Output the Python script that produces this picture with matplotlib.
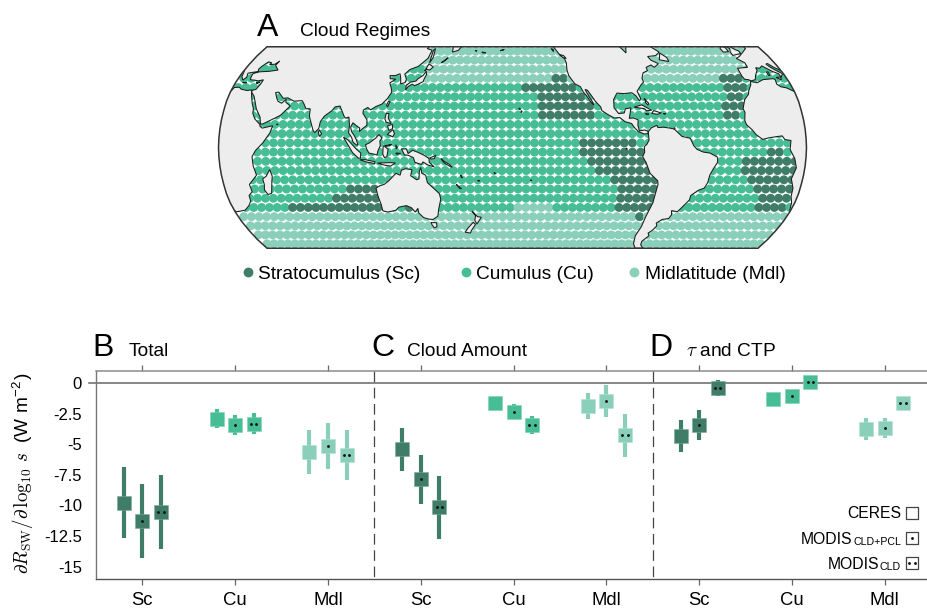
import numpy as np
import matplotlib
matplotlib.use("Agg")
import matplotlib.pyplot as plt
from matplotlib.path import Path
from matplotlib.patches import PathPatch, Polygon

plt.rcParams['font.family'] = ['Liberation Sans', 'DejaVu Sans']
plt.rcParams['mathtext.fontset'] = 'cm'

SC_COL, CU_COL, MDL_COL = '#3f7d69', '#46bd94', '#89cfb9'
W, H = 928, 612

# bars: order is CERES, CLD+PCL, CLD for Sc, Cu, Mdl
total_mid = [-9.76, -11.25, -10.54, -2.93, -3.40, -3.32, -5.62, -5.11, -5.90]
total_hi = [-6.82, -8.23, -7.55, -2.15, -2.60, -2.47, -3.86, -3.23, -3.86]
total_lo = [-12.66, -14.30, -13.56, -3.64, -4.24, -4.16, -7.42, -7.01, -7.91]
amount_mid = [-5.41, -7.85, -10.16, -1.60, -2.34, -3.40, -1.88, -1.47, -4.27]
amount_hi = [-3.70, -5.87, -7.60, -1.45, -1.71, -2.66, -0.84, -0.19, -2.53]
amount_lo = [-7.17, -9.84, -12.77, -1.75, -2.93, -4.16, -2.93, -2.77, -6.03]
tau_mid = [-4.32, -3.42, -0.38, -1.33, -1.09, 0.08, -3.72, -3.64, -1.66]
tau_hi = [-3.02, -2.20, 0.24, -1.10, -0.90, 0.35, -2.85, -2.85, -1.40]
tau_lo = [-5.65, -4.65, -1.03, -1.60, -1.30, -0.15, -4.62, -4.46, -1.90]

group_labels = ['Sc', 'Cu', 'Mdl'] * 3
ytick_vals = [0, -2.5, -5, -7.5, -10, -12.5, -15]
ytick_labels = ['0', '-2.5', '-5', '-7.5', '-10', '-12.5', '-15']

# map cells, 5 degree grid, (lat, first lon, last lon) runs
cell_lats = [52.5, 47.5, 42.5, 37.5, 32.5, 27.5, 22.5, 17.5, 12.5, 7.5, 2.5,
             -2.5, -7.5, -12.5, -17.5, -22.5, -27.5, -32.5, -37.5, -42.5, -47.5, -52.5]
cell_lons = [22.5 + 5 * i for i in range(72)]
mdl_runs = [(52.5, 22.5, 377.5), (47.5, 22.5, 377.5), (42.5, 22.5, 377.5), (37.5, 22.5, 377.5),
            (-32.5, 202.5, 222.5), (-37.5, 22.5, 377.5), (-42.5, 22.5, 377.5),
            (-47.5, 22.5, 377.5), (-52.5, 22.5, 377.5)]
cu_runs = [(47.5, 22.5, 57.5), (42.5, 22.5, 57.5), (42.5, 127.5, 137.5), (37.5, 22.5, 57.5),
           (37.5, 122.5, 137.5), (42.5, 357.5, 377.5), (37.5, 352.5, 377.5)]
sc_runs = [(37.5, 227.5, 232.5), (37.5, 337.5, 347.5), (32.5, 207.5, 237.5), (32.5, 337.5, 347.5),
           (27.5, 217.5, 242.5), (27.5, 337.5, 342.5), (22.5, 217.5, 247.5), (22.5, 332.5, 342.5),
           (17.5, 217.5, 247.5), (17.5, 332.5, 337.5),
           (2.5, 242.5, 272.5), (-2.5, 242.5, 277.5), (-7.5, 247.5, 282.5), (-12.5, 252.5, 287.5),
           (-17.5, 262.5, 292.5), (-22.5, 267.5, 292.5), (-27.5, 267.5, 292.5), (-32.5, 267.5, 292.5),
           (-37.5, 282.5, 282.5),
           (-2.5, 357.5, 362.5), (-7.5, 342.5, 372.5), (-12.5, 342.5, 372.5), (-17.5, 347.5, 372.5),
           (-22.5, 352.5, 372.5), (-27.5, 357.5, 372.5), (-32.5, 357.5, 372.5),
           (-22.5, 97.5, 112.5), (-27.5, 87.5, 112.5), (-32.5, 57.5, 117.5), (-32.5, 132.5, 132.5)]

# coasts, lon/lat, coarse
africa = [(-6,35.8),(-2,35.1),(3,36.8),(10,37.3),(11,36.9),(10.2,34.3),(12,32.9),(15.3,32.3),(19,30.3),(20,32.5),(23,32.7),
          (25,31.6),(29,30.9),(32.3,31.2),(32.6,29.9),(33.5,28),(35.5,24),(37.2,21),(37.5,18.5),(39.5,15.5),(43.2,12.5),
          (43.4,11.5),(45,10.5),(51.2,11.8),(50,8),(46,2.5),(41.5,-1.7),(39.3,-5),(39.5,-10),(40.7,-15),(35,-20),(35.5,-24),
          (32.8,-26),(32.5,-29),(30,-31.5),(26,-34),(20,-34.8),(18.4,-34),(17,-30),(15,-26.5),(14.5,-22),(12,-17),(13.8,-11),
          (12.2,-6),(9,-1),(9.7,3.8),(6,4.3),(4.5,6.3),(1,5.9),(-4,5.2),(-7.6,4.4),(-11.5,7),(-13.5,9.5),(-16.7,12.4),
          (-17.4,14.7),(-16.3,19),(-17,21),(-14.5,26),(-11,28.8),(-9.7,31),(-6.8,34)]
eurasia = [(-9,43),(-9.5,38.7),(-8.9,37),(-6.3,36.7),(-5.3,36.1),(-2,36.8),(-0.3,39),(3.2,41.9),(3.5,43.3),(6,43),(8.5,44.3),
           (10.5,42.9),(13,41.2),(15.7,40),(16,38),(17,39),(18.4,40),(15.8,41.8),(13.6,43.6),(12.4,45.3),(13.8,45.6),(16,43.5),
           (19.4,41.5),(20.5,38.5),(22.5,36.6),(24,38),(23,40.3),(26,40.8),(29,41.2),(28,42.5),(28.7,44),(30.7,46.5),(33.5,46),
           (33,45),(36.5,45.2),(38,47),(37.5,44.6),(41.5,42),(36,41.3),(31,41.1),(29.1,40.9),(26.5,40),(26.8,38),(27.5,36.7),
           (30.5,36.5),(33,36.1),(36,36.7),(35.8,34.5),(34.5,31.5),(32.5,31),(32.6,30),(35,28),(37,25),(39,21),(42.5,16.5),
           (43.5,12.7),(45,12.8),(52,16),(55,17.5),(59.8,22.5),(56.5,24.5),(56.2,26.2),(54,24),(51.5,25),(50,26.7),(48,29.8),
           (50,30),(54,26.7),(57,26.9),(61.5,25.1),(66.5,25.4),(68,23.8),(70,21),(72.7,21),(73,17),(74.8,13),(76.5,9),(77.5,8.1),
           (79.8,10.3),(80.3,14),(82.3,17),(86.5,20),(88,22),(91,22.5),(92.3,20.5),(94.5,17),(95.5,15.9),(97.6,16.5),(98.5,12),
           (98.3,8),(100.3,5.5),(101.3,2.9),(103.5,1.3),(104.2,1.5),(103.4,4),(102,6.3),(100.2,8.5),(99.3,11),(100.5,13.4),
           (102.5,12),(105,10.5),(104.8,8.6),(107,10.4),(109.2,12),(109,15),(106,18.5),(106,20.3),(108.5,21.7),(110.5,20.4),
           (113.5,22.2),(117,23.5),(120,26.5),(122,30),(121,32.3),(119.3,35),(122.5,37),(118.8,37.3),(118,39),(121.5,39),
           (124.3,40),(125.5,37.7),(126.5,34.5),(129.2,35.2),(129.5,37),(127.5,39.8),(130,42.3),(135,44),(140,48.5),(141,53),
           (137,54),(142,59),(155,59),(156,52),(160,53),(163,57),(170,60),(170,72),(100,75),(40,68),(20,70),(5,62),(5,58),(8,58),
           (11,59),(12.5,56),(8,57),(8.5,54),(4,52),(-1.5,49.5),(-4.7,48.4),(-1.3,46),(-1.8,43.5)]
north_america = [(-168,66),(-160,59),(-165,54.8),(-155,58),(-150,60),(-145,60.3),(-137,58.8),(-131,55),(-128,51),(-124.8,48.4),
                 (-124,46),(-124.4,42),(-123.8,39),(-120.6,34.5),(-117.3,33),(-115.8,30),(-114,28),(-112,25),(-110,23),(-110.5,24.5),
                 (-112.5,27.5),(-114.5,31.5),(-113,31),(-110.5,27.5),(-108.8,25),(-105.8,22),(-105.3,20),(-102,18),(-98,16),(-94.5,16.2),
                 (-91.5,14),(-87.5,13),(-85.7,10.5),(-83.5,8.5),(-80,7.3),(-78,7.5),(-77.5,8.6),(-79.6,9.5),(-83,9),(-83.7,12),
                 (-83.3,15),(-86,16),(-88.7,15.8),(-88,18),(-87,21.5),(-90.5,21),(-91.5,18.7),(-95,18.4),(-97.5,21.5),(-97.2,26),
                 (-94.5,29.5),(-90,29.2),(-85,29.7),(-82.7,28),(-81,25.2),(-80,26.5),(-81.4,30.5),(-78,33.8),(-75.7,35.5),(-76,37.5),
                 (-74,40.5),(-70.5,41.7),(-70.5,43.5),(-66.5,44.8),(-65,43.5),(-61,45.5),(-65,47.5),(-66,49.5),(-60,50),(-56,52),
                 (-61,56),(-65,60),(-70,61),(-78,62),(-78,55),(-80,51.5),(-82.5,55),(-93,58),(-95,62),(-90,69),(-120,70),(-168,72)]
south_america = [(-77.5,8.6),(-75.5,10.7),(-72,12),(-71.5,10.8),(-68,11),(-64,10.5),(-61.5,10),(-57,6),(-52,5),(-50,1),(-48,-1),
                 (-44,-2.5),(-40,-3),(-35.2,-5.3),(-35,-8),(-37.5,-12),(-39,-15),(-39.5,-19),(-41,-22),(-44.5,-23.2),(-48.5,-26),
                 (-48.7,-28.5),(-52,-32.5),(-54,-34.8),(-58,-34.2),(-57,-36.5),(-58,-38.5),(-62,-39),(-65,-41),(-63.8,-42.5),
                 (-65.5,-45),(-67.5,-46.5),(-66,-48),(-69,-51),(-68.5,-53),(-65.5,-55),(-71,-55),(-74,-52.5),(-75.5,-48),(-74,-43),
                 (-73.5,-37.5),(-71.5,-30),(-70.3,-20),(-70.8,-18),(-76,-14),(-79,-8),(-81.2,-5),(-80,-2.5),(-80.3,0.5),(-78.7,1.7),
                 (-77.3,4),(-77.5,7)]
australia = [(113.6,-22),(114,-26),(115,-31),(115,-34.3),(118,-35),(123.5,-34),(126,-32.3),(131,-31.5),(134,-32.7),(135.8,-35),
             (138,-33),(138,-35.5),(140.5,-38),(143.5,-38.8),(146.4,-39),(150,-37.3),(151.5,-33),(153.5,-28),(153,-25),(149.5,-22),
             (146,-19),(145.3,-15),(143,-14),(142.5,-10.8),(141.5,-13),(141,-17),(139.5,-17.5),(136,-15.3),(137,-12),(133,-11.5),
             (130.5,-12.3),(129.5,-15),(127,-14),(124,-16.5),(122.2,-18),(119,-20),(116,-20.8)]
islands = [
    [(49.3,-12),(50.3,-15.5),(49.5,-18),(47.5,-24.8),(45,-25.5),(43.5,-23),(44.3,-20),(44,-17),(46.5,-15.6)],
    [(80,9.7),(81.8,7.5),(80.5,6),(79.8,8)],
    [(172.8,-34.5),(176,-37.5),(178.5,-37.8),(177,-39.5),(175.2,-41.5),(174,-39.5),(174.8,-37)],
    [(172.8,-40.6),(174.2,-41.7),(171,-45),(170,-46.5),(166.5,-46),(168.5,-44)],
    [(144.7,-40.7),(148.3,-40.8),(148,-43),(146,-43.6),(145,-42)],
    [(130.3,33.5),(132.5,35.4),(136,36),(137,37.3),(139.8,39),(141.3,41.4),(142,39.5),(141,37),(140.8,35.7),(138.5,34.6),
     (135.8,33.5),(134,34.3),(131.7,33),(130.5,31.2)],
    [(140.2,41.5),(141.8,45.4),(145.3,43.7),(143.3,42),(141,42.6)],
    [(142,46),(143.5,49),(143,54),(142,53),(142,49)],
    [(121,25.2),(122,25),(120.8,22),(120.1,23)],
    [(120.5,18.5),(122.2,18.4),(122,16),(124,13),(121,13.7),(120,15.5)],
    [(122,7),(125.5,9.7),(126.5,7.5),(125.5,5.7),(124,6.5)],
    [(122,11.8),(125,12.5),(125.2,10.2),(123,9.2)],
    [(95.3,5.6),(98,4.2),(103.5,-1),(106,-3),(105.8,-5.8),(104.5,-5.8),(101,-2.8),(98.5,1)],
    [(105.2,-6.6),(108.5,-6.6),(114.5,-7.7),(114.4,-8.7),(109,-7.8)],
    [(109,1.5),(111.3,2.5),(115,5),(117,7),(119,5.2),(117.7,3.5),(118,1),(116.5,-2),(116,-4),(111,-3),(109.5,-0.5)],
    [(119.8,0.8),(125,1.6),(120.8,0.5),(122.8,-1),(122,-5),(120.4,-5.5),(119.5,-3.5)],
    [(131,-0.8),(134.1,-0.8),(135,-3.3),(137.8,-1.5),(141,-2.6),(145,-4.3),(147.8,-6),(147.8,-8),(150.8,-10.5),(147,-9.5),
     (144,-7.8),(143,-9.2),(139,-8),(138.2,-5.5),(135,-4.2),(132.8,-4)],
    [(116,-8.4),(120,-8.3),(124.5,-8.2),(127,-8.4),(124,-10.1),(120,-9.5)],
    [(127.5,-3),(130.5,-3.2),(128,-3.7)], [(127.5,1.5),(128.5,0),(127.8,-0.8)], [(148.5,-5.6),(152,-4.2),(151,-6),(149,-6.3)],
    [(155,-6),(157,-7.5),(160,-9),(162,-10.7),(160,-10),(157,-8.3)], [(164,-20),(167,-22.3),(166,-22.2)],
    [(167,-15),(168,-16.5),(167.2,-16)], [(177.5,-17.7),(178.6,-18.1),(177.5,-18.2)], [(-155.5,20),(-155,19.5),(-155.7,19)],
    [(-85,21.9),(-80,23.1),(-74.2,20.2),(-77.5,19.9),(-78.5,21)], [(-74.4,18.5),(-73,20),(-68.4,18.7),(-71,18)],
    [(-78.3,18.4),(-76.3,18.1),(-77.5,17.8)], [(-67.2,18.4),(-65.7,18.4),(-66.5,18)], [(-61.5,10.7),(-60.9,10.2),(-61.8,10)],
    [(-78,26.5),(-77,26),(-77.5,24.5),(-76,23),(-75.5,24)],
    [(-5.5,50.1),(1.5,51.2),(1.7,52.7),(0,53.5),(-1.5,55),(-3,58.7),(-6,57),(-3,54),(-5,52)],
    [(-10,52),(-6,52.2),(-5.6,54.7),(-8,55.2),(-10,54)], [(12.5,38),(15.6,38.2),(15,36.7)], [(8.5,41),(9.7,41),(9.5,39.2),(8.5,39)],
    [(23.5,35.4),(26.3,35.1),(24,35)], [(32.5,35),(34.5,35.5),(33.5,34.7)], [(53.5,12.7),(54.5,12.5),(53.8,12.3)],
    [(-91.5,-0.3),(-90.8,-0.6),(-91.2,-1)], [(-128,50.7),(-125,50),(-123.5,48.4),(-125.5,48.8)],
    [(-59,47.7),(-53,46.7),(-53,49),(-56,51.5),(-58,49)], [(-133,54),(-131.5,53.5),(-131.5,52.2)],
    [(172,52.9),(173.5,52.6),(172.5,52.7)], [(177,52),(180,51.6),(178,51.5)], [(150,46),(152,47),(154,48.8)],
    [(-170,52.8),(-167,53.5),(-168,53)], [(-157,21.4),(-156,20.8),(-156.5,20.6)], [(-172.5,-13.6),(-171.5,-14),(-172,-14.1)],
    [(-149.7,-17.5),(-149.2,-17.8),(-149.6,-17.9)],
]

# Robinson table
rob_lat = np.arange(0, 95, 5)
rob_len = np.array([1, .9986, .9954, .99, .9822, .973, .96, .9427, .9216, .8962, .8679, .835, .7986, .7597, .7186, .6732, .6213, .5722, .5322])
rob_dfe = np.array([0, .062, .124, .186, .248, .31, .372, .434, .4958, .5571, .6176, .6769, .7346, .7903, .8435, .8936, .9394, .9761, 1])
CENTER_LON = 199.


def project(lon, lat):
    lon, lat = np.asarray(lon, float), np.asarray(lat, float)
    x = np.interp(np.abs(lat), rob_lat, rob_len) * (lon - CENTER_LON) / 180.
    y = np.sign(lat) * np.interp(np.abs(lat), rob_lat, rob_dfe)
    return x, y


def fx(px):
    return px / W


def fy(py):
    return 1 - py / H


fig = plt.figure(figsize=(W / 100, H / 100), dpi=100)

# ---- map
ax_map = fig.add_axes([fx(218.5), fy(248), 588 / W, 201 / H])
ax_map.set_xlim(-1, 1)
ax_map.set_ylim(-.6754, .6754)
ax_map.axis('off')

edge_lat = np.arange(-55, 56, 1.)
ex, ey = project(np.full(edge_lat.shape, CENTER_LON - 180), edge_lat)
ex2, ey2 = project(np.full(edge_lat.shape, CENTER_LON + 180), edge_lat[::-1])
outline_xy = np.vstack([np.column_stack([ex, ey]), np.column_stack([ex2, ey2])])
outline = Polygon(outline_xy, closed=True, fc='white', ec='none', zorder=0)
ax_map.add_patch(outline)

regime = {}
for la in cell_lats:
    for lo in cell_lons:
        regime[(la, lo)] = CU_COL
for runs, col in [(mdl_runs, MDL_COL), (cu_runs, CU_COL), (sc_runs, SC_COL)]:
    for la, lo0, lo1 in runs:
        for lo in cell_lons:
            if lo0 <= lo <= lo1:
                regime[(la, lo)] = col
la_all = [k[0] for k in regime]
lo_all = [k[1] for k in regime]
px_all, py_all = project(lo_all, la_all)
dots = ax_map.scatter(px_all, py_all, s=41, c=list(regime.values()), linewidths=0, zorder=1)
dots.set_clip_path(outline)


def add_land(p):
    x, y = project([q[0] for q in p], [q[1] for q in p])
    verts = list(zip(x, y)) + [(0, 0)]
    codes = [Path.MOVETO] + [Path.LINETO] * (len(p) - 1) + [Path.CLOSEPOLY]
    patch = PathPatch(Path(verts, codes), fc='#ecedec', ec='#1c1c1c', lw=0.75, zorder=2)
    ax_map.add_patch(patch)
    patch.set_clip_path(outline)


def shift(p, d):
    return [(a + d, b) for a, b in p]


def east(p):
    # one continuous copy in the 19..379 window
    return [(a % 360, b) for a, b in p]


# eurasia and africa cross the map seam so they are drawn on both sides
for d in (0, 360):
    add_land(shift(africa, d))
    add_land(shift(eurasia, d))
add_land(east(north_america))
add_land(east(south_america))
add_land(australia)
for isl in islands:
    m = np.mean([q[0] for q in isl])
    if m < 19:
        add_land(shift(isl, 360))
    else:
        add_land(east(isl))

ax_map.add_patch(Polygon(outline_xy, closed=True, fc='none', ec='#333333', lw=1.1, zorder=3, clip_on=False))

# ---- bar panel
ax = fig.add_axes([fx(96), fy(579), 835 / W, 208.3 / H])
ax.set_xlim(-.5, 8.5)
ax.set_ylim(-16, 1)
colors = [SC_COL] * 3 + [CU_COL] * 3 + [MDL_COL] * 3
offsets = [-.2, 0, .2] * 3
halo = {SC_COL: '#7fa89a', CU_COL: '#7fd3b6', MDL_COL: '#b3e0d1'}

panels = [(0, total_mid, total_lo, total_hi), (3, amount_mid, amount_lo, amount_hi), (6, tau_mid, tau_lo, tau_hi)]
for start, mid, lo, hi in panels:
    for i in range(9):
        xc = start + i // 3 + offsets[i]
        ax.vlines(xc, lo[i], hi[i], color=colors[i], lw=3.0, zorder=3)
        ax.scatter([xc], [mid[i]], marker='s', s=92, c=colors[i], edgecolors=halo[colors[i]], linewidths=0.4, zorder=4)
        n = i % 3
        if n == 1:
            ax.scatter([xc], [mid[i]], s=4.2, c='#111111', linewidths=0, zorder=5)
        if n == 2:
            ax.scatter([xc - .029, xc + .029], [mid[i], mid[i]], s=4.2, c='#111111', linewidths=0, zorder=5)

ax.plot([-.58, 8.5], [0, 0], color='#666666', lw=1.1, clip_on=False, zorder=2)
for xs in (2.5, 5.5):
    ax.plot([xs, xs], [1, -16], color='#444444', lw=0.9, dashes=(8.5, 4.5), zorder=2)

ax.set_xticks(range(9))
ax.set_xticklabels(group_labels, fontsize=13.3)
ax.set_yticks(ytick_vals)
ax.set_yticklabels(ytick_labels, fontsize=12)
ax.tick_params(axis='y', length=0, pad=10)
ax.tick_params(axis='x', top=True, bottom=True, length=4.5, width=0.9, color='#666666', pad=5)
ax.spines['right'].set_visible(False)
ax.spines['top'].set_color('#8c8c8c')
ax.spines['top'].set_linewidth(1.1)
ax.spines['left'].set_color('#777777')
ax.spines['left'].set_linewidth(1.0)
ax.spines['bottom'].set_color('#555555')
ax.spines['bottom'].set_linewidth(1.0)

fig.text(fx(23), fy(473), r'$\partial R_{\mathrm{SW}}/\partial\,\log_{10}\,s$  (W m$^{\mathdefault{-2}}$)',
         rotation=90, ha='center', va='center', fontsize=13.7)

# ---- panel letters and titles
for s, x, y in [('A', 257, 36), ('B', 92, 356), ('C', 371, 356), ('D', 649, 356)]:
    fig.text(fx(x), fy(y), s, fontsize=23, ha='left', va='baseline')
for s, x, y in [('Cloud Regimes', 300, 36), ('Total', 129, 356), ('Cloud Amount', 407, 356), (r'$\tau$ and CTP', 686, 356)]:
    fig.text(fx(x), fy(y), s, fontsize=13.8, ha='left', va='baseline')

# ---- regime legend, figure pixels
ax_leg = fig.add_axes([0, 0, 1, 1], facecolor='none')
ax_leg.set_xlim(0, W)
ax_leg.set_ylim(H, 0)
ax_leg.axis('off')
for s, c, xd, xt in [('Stratocumulus (Sc)', SC_COL, 248, 258), ('Cumulus (Cu)', CU_COL, 466, 476), ('Midlatitude (Mdl)', MDL_COL, 634, 645)]:
    ax_leg.scatter([xd], [272], s=50, c=c, linewidths=0)
    ax_leg.text(xt, 279, s, fontsize=13.75, ha='left', va='baseline')

# ---- product legend
for yb, ys in [(518, 512.7), (544, 537.7), (569, 562.7)]:
    ax_leg.scatter([912], [ys], marker='s', s=72, facecolor='white', edgecolor='#444444', linewidths=0.9, zorder=3)
ax_leg.scatter([912], [537.7], s=4.2, c='#111111', linewidths=0, zorder=4)
ax_leg.scatter([909.3, 914.7], [562.7, 562.7], s=4.2, c='#111111', linewidths=0, zorder=4)
ax_leg.text(901, 518, 'CERES', fontsize=11.3, ha='right', va='baseline')
ax_leg.text(852, 544, 'MODIS', fontsize=11.3, ha='right', va='baseline')
ax_leg.text(901, 545, 'CLD+PCL', fontsize=7.7, ha='right', va='baseline')
ax_leg.text(879.5, 569, 'MODIS', fontsize=11.3, ha='right', va='baseline')
ax_leg.text(901, 570, 'CLD', fontsize=7.7, ha='right', va='baseline')

fig.savefig('out.png', dpi=100)
